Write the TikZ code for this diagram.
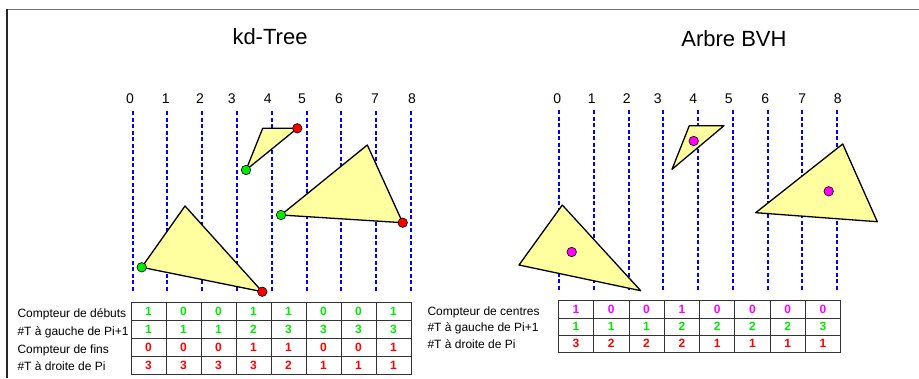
\documentclass[tikz,border=0pt]{standalone}
\usepackage{fontspec}
\setmainfont{Liberation Sans}
\definecolor{gr}{RGB}{0,235,0}
\definecolor{rd}{RGB}{255,0,0}
\definecolor{mg}{RGB}{255,0,255}
\definecolor{triy}{RGB}{255,255,160}
\definecolor{dblue}{RGB}{0,0,255}
\begin{document}
\begin{tikzpicture}[x=1pt,y=-1pt,
  gridline/.style={dblue,line width=2pt,dash pattern=on 4pt off 2.5pt},
  tri/.style={fill=triy,draw=black,line width=1.3pt,line join=round},
  dotn/.style={circle,draw=black,line width=0.6pt,minimum size=9.5pt,inner sep=0pt},
  gdot/.style={dotn,fill=gr},
  rdot/.style={dotn,fill=rd},
  mdot/.style={dotn,fill=mg},
  num/.style={font=\fontsize{14}{14}\selectfont,anchor=base,inner sep=0pt},
  titletext/.style={font=\fontsize{22}{22}\selectfont,anchor=base,inner sep=0pt},
  lab/.style={font=\fontsize{12}{12}\selectfont,anchor=base west,inner sep=0pt},
  kcell/.style={draw=black!80,line width=0.8pt,minimum width=35pt,minimum height=18pt,inner sep=0pt,font=\fontsize{12}{12}\selectfont\bfseries},
  bcell/.style={draw=black!80,line width=0.8pt,minimum width=35.3pt,minimum height=17.2pt,inner sep=0pt,font=\fontsize{12}{12}\selectfont\bfseries}
]
\useasboundingbox (0,0) rectangle (919,378);
% frame
\draw[black!55,line width=1.5pt] (6,9.5) -- (919,9.5);
\draw[black!85,line width=1.5pt] (7,9) -- (7,378);

% titles
\node[titletext] (t1) at (270,44) {kd-Tree};
\node[titletext] (t2) at (734,46) {Arbre BVH};

% ---------- kd-Tree ----------
\foreach \x [count=\i from 0] in {132.7,167,201.7,236.7,271.7,306.7,340.7,375.7,410.7}
  \draw[gridline] (\x,111) -- (\x,292);
\foreach \x [count=\i from 0] in {130,165.7,200,231.7,267.7,302,339,375,412}
  \node[num] (kl\i) at (\x,103) {\i};

\coordinate (ka1) at (262.7,128.3);
\coordinate (ka2) at (297.3,128.3);
\coordinate (ka3) at (246,170);
\coordinate (kb1) at (367.3,145);
\coordinate (kb2) at (281,215);
\coordinate (kb3) at (402.7,222.7);
\coordinate (kc1) at (185,206);
\coordinate (kc2) at (141.7,267.3);
\coordinate (kc3) at (262.3,291.7);
\draw[tri] (ka1) -- (ka2) -- (ka3) -- cycle;
\draw[tri] (kb1) -- (kb2) -- (kb3) -- cycle;
\draw[tri] (kc1) -- (kc2) -- (kc3) -- cycle;
\node[gdot] (kg1) at (ka3) {};
\node[rdot] (kr1) at (ka2) {};
\node[gdot] (kg2) at (kb2) {};
\node[rdot] (kr2) at (kb3) {};
\node[gdot] (kg3) at (kc2) {};
\node[rdot] (kr3) at (kc3) {};

% kd table
\node[lab] (kt1) at (17.3,317.5) {Compteur de débuts};
\node[lab] (kt2) at (17.3,335) {\#T à gauche de Pi+1};
\node[lab] (kt3) at (17.3,353) {Compteur de fins};
\node[lab] (kt4) at (17.3,370.5) {\#T à droite de Pi};
\foreach \v [count=\i] in {1,0,0,1,1,0,0,1}
  \node[kcell,text=gr] (k1-\i) at (131+35*\i-17.5,311.3) {\v};
\foreach \v [count=\i] in {1,1,1,2,3,3,3,3}
  \node[kcell,text=gr] (k2-\i) at (131+35*\i-17.5,329.3) {\v};
\foreach \v [count=\i] in {0,0,0,1,1,0,0,1}
  \node[kcell,text=rd] (k3-\i) at (131+35*\i-17.5,347.3) {\v};
\foreach \v [count=\i] in {3,3,3,3,2,1,1,1}
  \node[kcell,text=rd] (k4-\i) at (131+35*\i-17.5,365.3) {\v};

% ---------- BVH ----------
\foreach \x [count=\i from 0] in {559,593.75,628.5,663.25,698,732.75,767.5,802.25,837}
  \draw[gridline] (\x,110) -- (\x,291);
\foreach \x [count=\i from 0] in {557.3,591.7,626.7,657.7,693.3,728.7,765.3,802.3,837.7}
  \node[num] (bl\i) at (\x,103) {\i};

\coordinate (ba1) at (689.3,125.7);
\coordinate (ba2) at (724,125.7);
\coordinate (ba3) at (672,169.3);
\coordinate (bb1) at (842.7,144);
\coordinate (bb2) at (755.7,212.7);
\coordinate (bb3) at (877.3,221.7);
\coordinate (bc1) at (562.3,205);
\coordinate (bc2) at (519,265);
\coordinate (bc3) at (640.7,290.7);
\draw[tri] (ba1) -- (ba2) -- (ba3) -- cycle;
\draw[tri] (bb1) -- (bb2) -- (bb3) -- cycle;
\draw[tri] (bc1) -- (bc2) -- (bc3) -- cycle;
\node[mdot] (bm1) at (693.7,141) {};
\node[mdot] (bm2) at (828.7,191.3) {};
\node[mdot] (bm3) at (571.7,252) {};

% BVH table
\node[lab] (bt1) at (427.3,315) {Compteur de centres};
\node[lab] (bt2) at (427.3,331.5) {\#T à gauche de Pi+1};
\node[lab] (bt3) at (427.3,348.5) {\#T à droite de Pi};
\foreach \v [count=\i] in {1,0,0,1,0,0,0,0}
  \node[bcell,text=mg] (b1-\i) at (558.3+35.3*\i-17.65,309.3) {\v};
\foreach \v [count=\i] in {1,1,1,2,2,2,2,3}
  \node[bcell,text=gr] (b2-\i) at (558.3+35.3*\i-17.65,326.5) {\v};
\foreach \v [count=\i] in {3,2,2,2,1,1,1,1}
  \node[bcell,text=rd] (b3-\i) at (558.3+35.3*\i-17.65,343.7) {\v};
\end{tikzpicture}
\end{document}
